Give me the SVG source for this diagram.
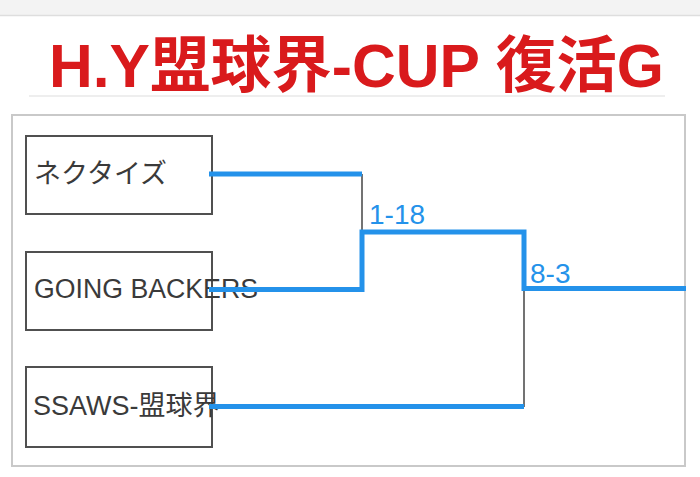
<svg xmlns="http://www.w3.org/2000/svg" width="700" height="477" viewBox="0 0 700 477">
<defs>
<style>
.title{font-family:"Liberation Sans","Noto Sans CJK JP",sans-serif;font-weight:bold;font-size:61px;fill:#d91a1c}
.box{fill:#ffffff;stroke:#505050;stroke-width:2}
.name{font-family:"Liberation Sans","Noto Sans CJK JP",sans-serif;font-size:27px;fill:#3a3a3a}
.win{fill:none;stroke:#2492ea;stroke-width:5;stroke-linejoin:miter;stroke-linecap:butt}
.lose{fill:none;stroke:#444444;stroke-width:1.5}
.score{font-family:"Liberation Sans",sans-serif;font-size:28px;fill:#2492ea}
</style>
</defs>
<rect x="0" y="0" width="700" height="477" fill="#ffffff"/>
<rect x="0" y="0" width="700" height="15" fill="#f3f3f3"/>
<line x1="0" y1="15.5" x2="700" y2="15.5" stroke="#dedede" stroke-width="1.5"/>
<text class="title" x="49" y="87" textLength="615" lengthAdjust="spacingAndGlyphs">H.Y盟球界-CUP 復活G</text>
<line x1="29" y1="96" x2="665" y2="96" stroke="#e8e8e8" stroke-width="1.5"/>
<rect x="12" y="115" width="673" height="351" fill="#ffffff" stroke="#c9c9c9" stroke-width="2"/>
<g id="node-necktiez">
<rect class="box" x="26" y="136" width="186" height="78"/>
<text class="name" x="34" y="183">ネクタイズ</text>
</g>
<g id="node-going-backers">
<rect class="box" x="26" y="252" width="186" height="78"/>
<text class="name" x="34" y="298" textLength="224" lengthAdjust="spacingAndGlyphs">GOING BACKERS</text>
</g>
<g id="node-ssaws">
<rect class="box" x="26" y="367" width="186" height="80"/>
<text class="name" x="33" y="415">SSAWS-盟球界</text>
</g>
<g id="connectors">
<line class="lose" x1="362" y1="174" x2="362" y2="232"/>
<line class="lose" x1="524" y1="289" x2="524" y2="407"/>
<polyline class="win" points="209,174 362,174"/>
<polyline class="win" points="209,289.5 362,289.5 362,232 524,232 524,288.5 686,288.5"/>
<polyline class="win" points="209,406.5 524,406.5"/>
<text class="score" x="369" y="224">1-18</text>
<text class="score" x="530" y="283">8-3</text>
</g>
</svg>
